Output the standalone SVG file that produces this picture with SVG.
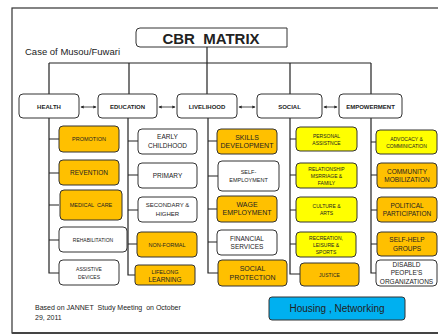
<svg xmlns="http://www.w3.org/2000/svg" width="438" height="335" viewBox="0 0 438 335">
<defs>
<style>
text{font-family:"Liberation Sans",Arial,sans-serif;fill:#222;text-anchor:middle;white-space:pre}
.b{stroke:#333;stroke-width:1}
.w{fill:#fff}
.o{fill:#FFC000}
.y{fill:#FFFF00}
.l{stroke:#222;stroke-width:1.2;fill:none}
.hd{font-size:6px;font-weight:bold}
</style>
<marker id="ah" viewBox="0 0 6 6" refX="5" refY="3" markerWidth="4" markerHeight="4" orient="auto-start-reverse"><path d="M0,0L6,3L0,6z" fill="#222"/></marker>
</defs>
<rect x="0" y="0" width="438" height="335" fill="#fff"/>
<rect x="12" y="8" width="440" height="325" fill="none" stroke="#333" stroke-width="1.2"/>
<line x1="12" y1="333" x2="438" y2="333" stroke="#444" stroke-width="2"/>

<g id="connectors">
<path class="l" d="M207,47V63M49,63H371M49,63V95M129,63V95M207,63V95M290,63V95M371,63V95"/>
<path class="l" d="M49,118V273H59M49,139H59M49,173H59M49,205H59M49,240H59"/>
<path class="l" d="M128,118V275H135M128,141H138M128,175H138M128,210H138M128,244H137"/>
<path class="l" d="M208,118V273H218M208,141H217M208,176H218M208,209H217M208,242H217"/>
<path class="l" d="M290,118V274H300M290,139H296M290,175H296M290,210H296M290,244H296"/>
<path class="l" d="M371,118V273H376M371,142H376M371,175H377M371,210H377M371,244H377"/>
<g stroke="#222" stroke-width="0.8" marker-start="url(#ah)" marker-end="url(#ah)">
<line x1="81" y1="107" x2="96" y2="107"/>
<line x1="159" y1="107" x2="175" y2="107"/>
<line x1="239" y1="107" x2="255" y2="107"/>
<line x1="324" y1="107" x2="337" y2="107"/>
</g>
</g>

<g id="title"><path class="b w" d="M140,28H287V47H140Q136,47 136,43V32Q136,28 140,28Z"/><text x="211" y="44" font-size="15" font-weight="bold">CBR  MATRIX</text></g>
<g id="case"><text x="25" y="55" font-size="9.5" style="text-anchor:start">Case of Musou/Fuwari</text></g>

<g id="health"><rect class="b w" x="19" y="94" width="60" height="24" rx="4"/><text class="hd" x="49" y="108.5">HEALTH</text></g>
<g id="education"><rect class="b w" x="98" y="94" width="59" height="24" rx="4"/><text class="hd" x="127.5" y="108.5">EDUCATION</text></g>
<g id="livelihood"><rect class="b w" x="177" y="94" width="60" height="24" rx="4"/><text class="hd" x="207" y="108.5">LIVELIHOOD</text></g>
<g id="social"><rect class="b w" x="257" y="94" width="65" height="24" rx="4"/><text class="hd" x="289.5" y="108.5">SOCIAL</text></g>
<g id="empowerment"><rect class="b w" x="339" y="94" width="63" height="24" rx="4"/><text class="hd" x="370.5" y="108.5">EMPOWERMENT</text></g>

<g id="promotion"><rect class="b o" x="59" y="126" width="60" height="26" rx="4"/><text x="89" y="141" font-size="5.5">PROMOTION</text></g>
<g id="revention"><rect class="b o" x="59" y="160" width="60" height="25" rx="4"/><text x="89" y="175" font-size="6.5">REVENTION</text></g>
<g id="medical"><rect class="b o" x="60" y="190" width="62" height="30" rx="4"/><text x="91" y="207" font-size="5.5">MEDICAL  CARE</text></g>
<g id="rehab"><rect class="b w" x="59" y="227" width="68" height="25" rx="4"/><text x="93" y="241.5" font-size="5">REHABILITATION</text></g>
<g id="assistive"><rect class="b w" x="59" y="260" width="60" height="25" rx="4"/><text x="89" y="270.5" font-size="5">ASSISTIVE</text><text x="89" y="278.5" font-size="5">DEVICES</text></g>

<g id="early"><rect class="b w" x="138" y="129" width="59" height="25" rx="4"/><text x="167.5" y="139" font-size="6.5">EARLY</text><text x="167.5" y="147.5" font-size="6.5">CHILDHOOD</text></g>
<g id="primary"><rect class="b w" x="138" y="163" width="59" height="25" rx="4"/><text x="167.5" y="178" font-size="6.5">PRIMARY</text></g>
<g id="secondary"><rect class="b w" x="138" y="197" width="59" height="25" rx="4"/><text x="167.5" y="207" font-size="6">SECONDARY &amp;</text><text x="167.5" y="215.5" font-size="6">HIGHER</text></g>
<g id="nonformal"><rect class="b o" x="137" y="232" width="60" height="25" rx="4"/><text x="167" y="246.5" font-size="5.5">NON-FORMAL</text></g>
<g id="lifelong"><rect class="b o" x="135" y="265" width="60" height="20" rx="3"/><text x="165" y="273.5" font-size="5.5">LIFELONG</text><text x="165" y="281.5" font-size="6.5">LEARNING</text></g>

<g id="skills"><rect class="b o" x="217" y="129" width="60" height="25" rx="4"/><text x="247" y="139.5" font-size="7">SKILLS</text><text x="247" y="148" font-size="7">DEVELOPMENT</text></g>
<g id="selfemp"><rect class="b w" x="218" y="161" width="61" height="30" rx="4"/><text x="248.5" y="174" font-size="5.5">SELF-</text><text x="248.5" y="181.5" font-size="5.5">EMPLOYMENT</text></g>
<g id="wage"><rect class="b o" x="217" y="196" width="60" height="26" rx="4"/><text x="247" y="206.5" font-size="7">WAGE</text><text x="247" y="215" font-size="7">EMPLOYMENT</text></g>
<g id="financial"><rect class="b w" x="217" y="230" width="60" height="25" rx="4"/><text x="247" y="240.5" font-size="6.5">FINANCIAL</text><text x="247" y="249" font-size="6.5">SERVICES</text></g>
<g id="socprot"><rect class="b o" x="218" y="260" width="69" height="26" rx="4"/><text x="252.5" y="271" font-size="7">SOCIAL</text><text x="252.5" y="279.5" font-size="7">PROTECTION</text></g>

<g id="personal"><rect class="b y" x="296" y="127" width="61" height="24" rx="4"/><text x="326.5" y="137.5" font-size="5">PERSONAL</text><text x="326.5" y="144.5" font-size="5">ASSISTNCE</text></g>
<g id="relationship"><rect class="b y" x="296" y="163" width="61" height="25" rx="4"/><text x="326.5" y="170.5" font-size="5">RELATIONSHIP</text><text x="326.5" y="177.5" font-size="5">MSRRIAGE &amp;</text><text x="326.5" y="184.5" font-size="5">FAMILY</text></g>
<g id="culture"><rect class="b y" x="296" y="197" width="61" height="25" rx="4"/><text x="326.5" y="207.5" font-size="5">CULTURE &amp;</text><text x="326.5" y="214.5" font-size="5">ARTS</text></g>
<g id="recreation"><rect class="b y" x="296" y="232" width="60" height="25" rx="4"/><text x="326" y="239.5" font-size="5">RECREATION,</text><text x="326" y="246.5" font-size="5">LEISURE &amp;</text><text x="326" y="253.5" font-size="5">SPORTS</text></g>
<g id="justice"><rect class="b o" x="300" y="263" width="59" height="23" rx="4"/><text x="329.5" y="276.5" font-size="5">JUSTICE</text></g>

<g id="advocacy"><rect class="b y" x="376" y="130" width="61" height="24" rx="4"/><text x="406.5" y="140.5" font-size="5">ADVOCACY &amp;</text><text x="406.5" y="147.5" font-size="5">COMMINICATION</text></g>
<g id="community"><rect class="b o" x="377" y="163" width="60" height="25" rx="4"/><text x="407" y="173.5" font-size="6.5">COMMUNITY</text><text x="407" y="182" font-size="6.5">MOBILIZATION</text></g>
<g id="political"><rect class="b o" x="377" y="197" width="60" height="25" rx="4"/><text x="407" y="207.5" font-size="6.5">POLITICAL</text><text x="407" y="216" font-size="6.5">PARTICIPATION</text></g>
<g id="selfhelp"><rect class="b o" x="377" y="232" width="60" height="24" rx="4"/><text x="407" y="242" font-size="6.5">SELF-HELP</text><text x="407" y="250.5" font-size="6.5">GROUPS</text></g>
<g id="dpo"><rect class="b w" x="376" y="260" width="61" height="26" rx="4"/><text x="406.5" y="266.5" font-size="6.5">DISABLD</text><text x="406.5" y="275" font-size="6.5">PEOPLE'S</text><text x="406.5" y="283.5" font-size="6.5">ORGANIZATIONS</text></g>

<g id="housing"><rect class="b" fill="#00B0F0" x="269" y="297" width="136" height="23" rx="3"/><text x="337" y="312" font-size="10">Housing , Networking</text></g>
<g id="footer"><text x="35" y="310" font-size="7" style="text-anchor:start">Based on JANNET  Study Meeting  on October</text><text x="35" y="320" font-size="7" style="text-anchor:start">29, 2011</text></g>
</svg>
